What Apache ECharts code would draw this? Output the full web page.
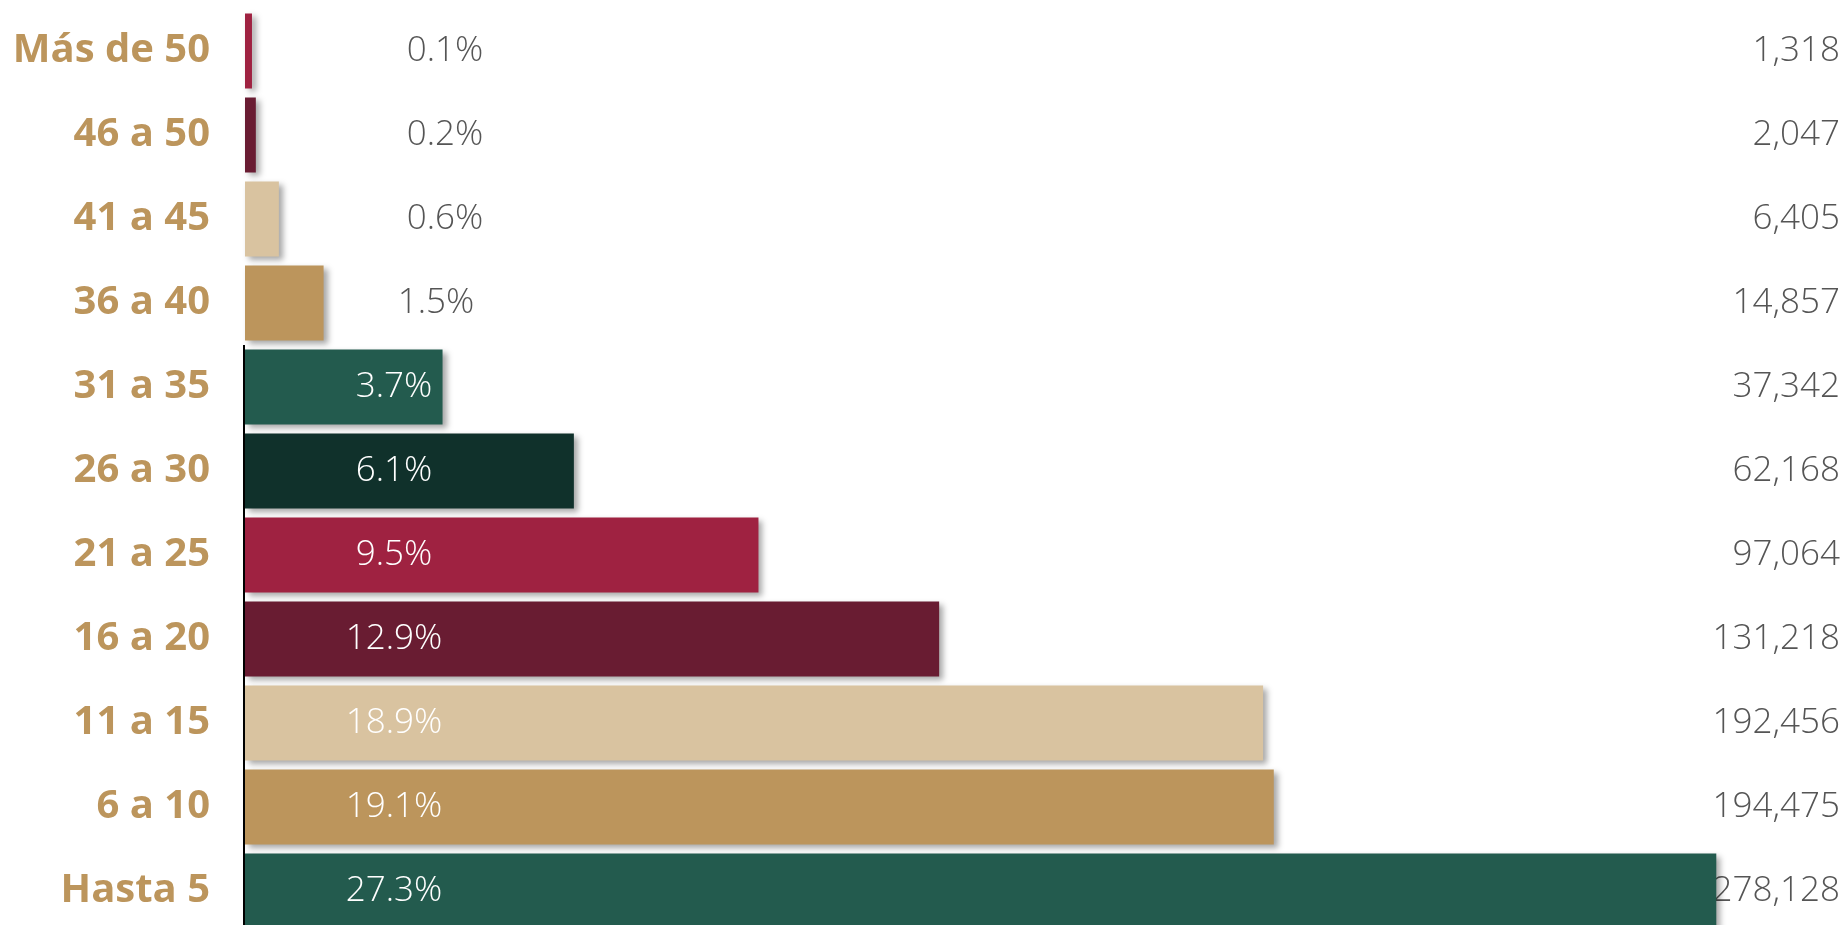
<!DOCTYPE html>
<html>
<head>
<meta charset="utf-8">
<style>
  html, body { margin: 0; padding: 0; background: #fff; overflow: hidden; }
  #chart { width: 1848px; height: 935px; }
</style>
<script src="https://cdn.jsdelivr.net/npm/echarts@6/dist/echarts.min.js"></script>
</head>
<body>
<div id="chart"></div>
<script>
// 年数分组（从上到下）
var categories = ['Más de 50', '46 a 50', '41 a 45', '36 a 40', '31 a 35', '26 a 30',
  '21 a 25', '16 a 20', '11 a 15', '6 a 10', 'Hasta 5'];
var counts = [1318, 2047, 6405, 14857, 37342, 62168, 97064, 131218, 192456, 194475, 278128];
var percents = [0.1, 0.2, 0.6, 1.5, 3.7, 6.1, 9.5, 12.9, 18.9, 19.1, 27.3];
var barColors = ['#9F2241', '#691C32', '#D9C3A0', '#BC955C', '#235B4E', '#10312B',
  '#9F2241', '#691C32', '#D9C3A0', '#BC955C', '#235B4E'];

var chart = echarts.init(document.getElementById('chart'));

// 小柱子标签放在柱外
function labelFor(i) {
  var outside = percents[i] < 2;
  return {
    position: [outside ? (percents[i] < 1 ? 200 : 191) : 149, '50%'],
    color: outside ? '#555555' : '#ffffff'
  };
}

var barData = counts.map(function (v, i) {
  return {
    value: v,
    itemStyle: { color: barColors[i] },
    label: labelFor(i)
  };
});

// 柱内有标签的行，左侧画黑色边线
var edgeData = [];
categories.forEach(function (c, i) {
  if (percents[i] >= 2) edgeData.push([0, c]);
});

var option = {
  backgroundColor: '#ffffff',
  animation: false,
  grid: { left: 245, right: 16, top: 9, height: 924 },
  xAxis: { type: 'value', min: 0, max: 300000, show: false },
  yAxis: [{
    type: 'category',
    inverse: true,
    data: categories,
    axisLine: { show: false },
    axisTick: { show: false },
    axisLabel: {
      margin: 35,
      color: '#BC955C',
      fontFamily: 'Open Sans',
      fontWeight: 'bold',
      fontSize: 40
    }
  }, {
    type: 'category',
    inverse: true,
    position: 'right',
    data: counts.map(function (v) { return v.toLocaleString('en-US'); }),
    axisLine: { show: false },
    axisTick: { show: false },
    axisLabel: {
      margin: 8,
      align: 'right',
      color: '#555555',
      fontFamily: 'Open Sans',
      fontWeight: 300,
      fontSize: 35
    }
  }],
  series: [{
    type: 'bar',
    data: barData,
    barWidth: 75,
    itemStyle: {
      shadowColor: 'rgba(0,0,0,0.35)',
      shadowBlur: 6,
      shadowOffsetX: 4,
      shadowOffsetY: 3
    },
    label: {
      show: true,
      align: 'center',
      verticalAlign: 'middle',
      fontFamily: 'Open Sans',
      fontWeight: 300,
      fontSize: 35,
      formatter: function (p) { return percents[p.dataIndex] + '%'; }
    }
  }, {
    type: 'custom',
    silent: true,
    z: 3,
    data: edgeData,
    encode: { x: 0, y: 1 },
    renderItem: function (params, api) {
      var p = api.coord([api.value(0), api.value(1)]);
      var band = api.size([0, 1])[1];
      return {
        type: 'rect',
        shape: { x: p[0] - 2, y: p[1] - band / 2, width: 2, height: band },
        style: { fill: '#000000' }
      };
    }
  }]
};

chart.setOption(option);
</script>
</body>
</html>
